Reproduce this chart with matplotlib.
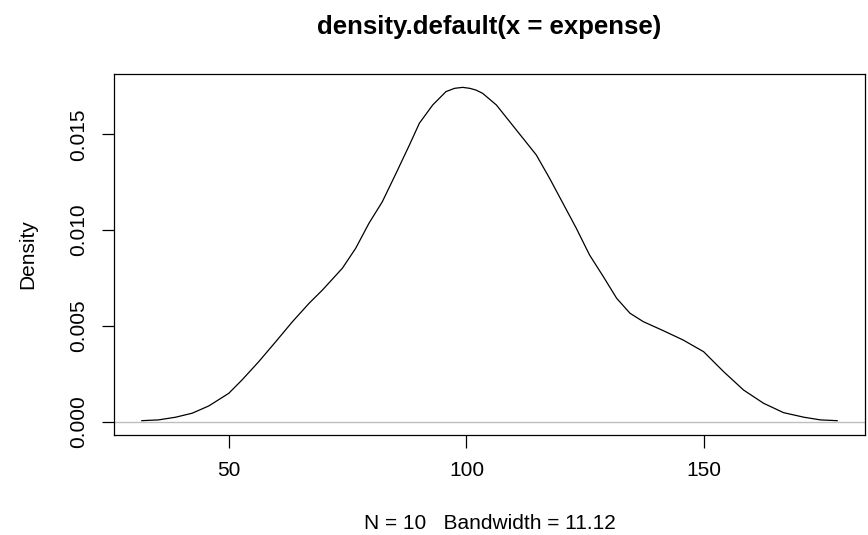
import matplotlib.pyplot as plt

# density curve (expense, density)
expense = [31.7, 35.2, 38.8, 42.3, 45.8, 50.0, 52.8, 56.3, 59.9, 63.4,
           66.9, 69.7, 73.9, 76.7, 79.5, 82.3, 85.2, 88.0, 90.1, 92.9,
           95.7, 97.5, 99.2, 100.7, 102.0, 103.4, 106.3, 109.1, 111.9, 114.7,
           117.5, 120.3, 123.1, 125.9, 128.8, 131.6, 134.4, 137.2, 141.4,
           145.6, 149.9, 154.1, 158.3, 162.5, 166.7, 171.0, 174.5, 178.0]
density = [0.00005, 0.00009, 0.00023, 0.00044, 0.00082, 0.00148, 0.00218,
           0.00313, 0.00418, 0.00522, 0.00618, 0.00687, 0.00801, 0.00905,
           0.01036, 0.01148, 0.01297, 0.01444, 0.01558, 0.01653, 0.01723,
           0.01740, 0.01745, 0.01740, 0.01731, 0.01714, 0.01653, 0.01566,
           0.01479, 0.01392, 0.01270, 0.01140, 0.01010, 0.00870, 0.00757,
           0.00644, 0.00566, 0.00522, 0.00475, 0.00426, 0.00365, 0.00261,
           0.00165, 0.00096, 0.00047, 0.00023, 0.00009, 0.00005]

x_ticks = [50, 100, 150]
y_ticks = [0.000, 0.005, 0.010, 0.015]
y_labels = ["0.000", "0.005", "0.010", "0.015"]

plt.rcParams["font.family"] = "Liberation Sans"

fig = plt.figure(figsize=(8.68, 5.35), dpi=100)
ax = fig.add_axes([114 / 868, 100 / 535, 751 / 868, 361 / 535])

ax.axhline(0, color="#bebebe", linewidth=1)
ax.plot(expense, density, color="black", linewidth=0.9)

# R style 4% padding
xr = max(expense) - min(expense)
yr = max(density)
ax.set_xlim(min(expense) - 0.04 * xr, max(expense) + 0.04 * xr)
ax.set_ylim(-0.04 * yr, yr * 1.04)

ax.set_xticks(x_ticks)
ax.set_xticklabels([str(t) for t in x_ticks])
ax.set_yticks(y_ticks)
ax.set_yticklabels(y_labels, rotation=90, va="center")

ax.tick_params(length=9, width=0.9, labelsize=15, pad=9.5, color="black")
for s in ax.spines.values():
    s.set_linewidth(0.9)

ax.set_ylabel("Density", fontsize=15, labelpad=23)
ax.set_xlabel("N = 10   Bandwidth = 11.12", fontsize=15, labelpad=24.5)
ax.set_title("density.default(x = expense)", fontsize=18.5, fontweight="bold", pad=29)

fig.savefig("out.png", dpi=100)
